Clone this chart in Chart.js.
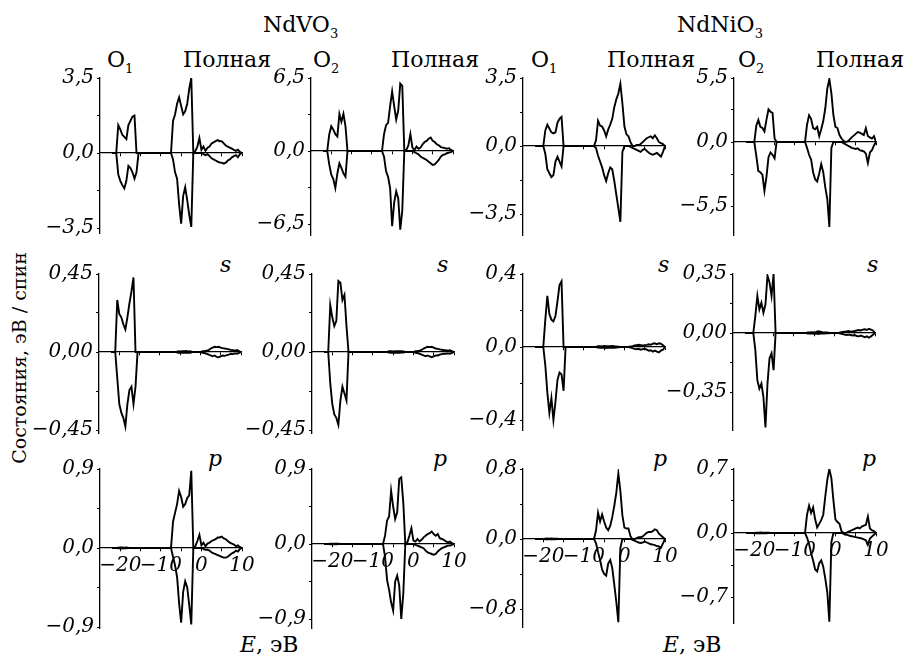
<!DOCTYPE html>
<html>
<head>
<meta charset="utf-8">
<script src="https://cdn.jsdelivr.net/npm/chart.js@4.4.1/dist/chart.umd.min.js"></script>
<style>
  body { margin: 0; background: #fff; }
  #fig { position: relative; width: 905px; height: 659px; overflow: hidden; font-family: 'DejaVu Serif', serif; color: #000; }
  #fig canvas { position: absolute; }
  .t { position: absolute; font-size: 22px; line-height: 22px; white-space: nowrap; }
  .t sub { font-size: 13px; vertical-align: -6px; line-height: 0; }
  .i { font-style: italic; }
  .ylab { position: absolute; left: 19px; top: 358px; font-size: 19px; white-space: nowrap; transform: translate(-50%, -50%) rotate(-90deg); }
</style>
</head>
<body>
<div id="fig">
  <div class="t" style="left:263px;top:14px">NdVO<sub>3</sub></div>
  <div class="t" style="left:677px;top:14px">NdNiO<sub>3</sub></div>

  <div class="t" style="left:107px;top:49px">O<sub>1</sub></div>
  <div class="t" style="left:183px;top:49px">Полная</div>
  <div class="t" style="left:313px;top:49px">O<sub>2</sub></div>
  <div class="t" style="left:391px;top:49px">Полная</div>
  <div class="t" style="left:531px;top:49px">O<sub>1</sub></div>
  <div class="t" style="left:607px;top:49px">Полная</div>
  <div class="t" style="left:738px;top:49px">O<sub>2</sub></div>
  <div class="t" style="left:816px;top:49px">Полная</div>

  <div class="t i" style="left:220px;top:254px">s</div>
  <div class="t i" style="left:437px;top:254px">s</div>
  <div class="t i" style="left:658px;top:254px">s</div>
  <div class="t i" style="left:867px;top:254px">s</div>

  <div class="t i" style="left:208px;top:448px">p</div>
  <div class="t i" style="left:433px;top:448px">p</div>
  <div class="t i" style="left:653px;top:448px">p</div>
  <div class="t i" style="left:862px;top:448px">p</div>

  <div class="t" style="left:240px;top:634px"><span class="i">E</span>, эВ</div>
  <div class="t" style="left:663px;top:634px"><span class="i">E</span>, эВ</div>

  <div class="ylab">Состояния, эВ / спин</div>
</div>
<script>
// energy grid, eV
var energies = [
  -22, -21.5, -21, -20.5, -20, -19.5, -19, -18.5, -18, -17.5,
  -17, -16.5, -16, -15.5, -15, -14.5, -14, -13.5, -13, -12.5,
  -12, -11.5, -11, -10.5, -10, -9.5, -9, -8.5, -8, -7.5,
  -7, -6.5, -6, -5.5, -5, -4.5, -4, -3.5, -3, -2.5,
  -2, -1.5, -1, -0.5, 0, 0.5, 1, 1.5, 2, 2.5,
  3, 3.5, 4, 4.5, 5, 5.5, 6, 6.5, 7, 7.5,
  8, 8.5, 9, 9.5, 10
];

// NdVO3, O1, total
var vo1TotUp = [
  0, 0, 0, 1.3, 1.1, 0.85, 0.75, 0.65, 1.3, 1.5,
  1.7, 1.75, 0, 0, 0, 0, 0, 0, 0, 0,
  0, 0, 0, 0, 0, 0, 0, 0, 0, 0,
  1.5, 1.8, 2.3, 2.6, 2.2, 1.8, 1.95, 2.3, 3.0, 3.5,
  0, 0.1, 0.3, 0.7, 0.15, 0.3, 0.1, 0.25, 0.3, 0.45,
  0.5, 0.55, 0.6, 0.55, 0.55, 0.45, 0.35, 0.3, 0.25, 0.2,
  0.15, 0.1, 0.15, 0.05, 0
];
var vo1TotDn = [
  0, 0, 0, -1.0, -1.3, -1.5, -1.65, -1.3, -0.6, -0.7,
  -0.9, -1.2, -0.9, 0, 0, 0, 0, 0, 0, 0,
  0, 0, 0, 0, 0, 0, 0, 0, 0, 0,
  -0.3, -0.9, -1.2, -2.4, -3.3, -2.0, -1.6, -2.2, -2.9, -3.45,
  0, 0, 0, 0, 0, -0.05, -0.1, -0.05, -0.15, -0.25,
  -0.3, -0.35, -0.4, -0.45, -0.45, -0.5, -0.45, -0.35, -0.3, -0.2,
  -0.15, -0.1, -0.2, -0.05, 0
];
// NdVO3, O2, total
var vo2TotUp = [
  0, 0, 0, 1.5, 2.2, 1.9, 1.5, 1.3, 3.3, 2.6,
  3.3, 2.2, 0, 0, 0, 0, 0, 0, 0, 0,
  0, 0, 0, 0, 0, 0, 0, 0, 0, 0,
  1.5, 2.3, 2.5, 4.0, 5.3, 4.0, 2.8, 3.6, 6.0, 5.8,
  0, 0.1, 0.5, 1.5, 0.3, 0.1, 0.4, 0.2, 0.3, 0.6,
  0.8, 0.9, 1.1, 1.2, 0.9, 0.8, 0.6, 0.5, 0.35, 0.3,
  0.25, 0.2, 0.25, 0.1, 0
];
var vo2TotDn = [
  0, 0, 0, -1.2, -2.1, -2.5, -3.3, -2.0, -1.1, -1.5,
  -2.0, -2.3, 0, 0, 0, 0, 0, 0, 0, 0,
  0, 0, 0, 0, 0, 0, 0, 0, 0, 0,
  -0.5, -1.8, -2.3, -3.3, -6.7, -4.6, -3.6, -4.2, -7.0, -5.3,
  0, 0, 0, 0, 0, -0.1, -0.2, -0.3, -0.5, -0.6,
  -0.7, -0.8, -0.95, -1.1, -1.25, -1.2, -1.0, -0.8, -0.5, -0.35,
  -0.3, -0.2, -0.15, -0.1, 0
];
// NdNiO3, O1, total
var ni1TotUp = [
  0, 0, 0, 0, 0, 0.8, 1.1, 0.9, 0.7, 0.65,
  0.7, 1.2, 1.4, 1.5, 0, 0, 0, 0, 0, 0,
  0, 0, 0, 0, 0, 0, 0, 0, 0, 0,
  0.3, 1.3, 1.05, 1.0, 0.8, 0.5, 0.85, 1.1, 1.4, 2.0,
  2.4, 2.7, 3.2, 2.2, 1.0, 0.6, 0.5, 0.2, 0, 0,
  0.05, 0.05, 0.1, 0.2, 0.3, 0.4, 0.45, 0.5, 0.4, 0.55,
  0.4, 0.2, 0.15, 0.1, 0
];
var ni1TotDn = [
  0, 0, 0, 0, 0, -0.4, -1.2, -1.4, -1.6, -1.5,
  -0.8, -0.55, -0.8, -1.05, 0, 0, 0, 0, 0, 0,
  0, 0, 0, 0, 0, 0, 0, 0, 0, 0,
  -0.1, -0.5, -0.8, -1.1, -1.5, -1.8, -1.4, -1.1, -1.2, -1.8,
  -2.5, -3.2, -3.9, -0.3, 0, 0, 0, -0.05, -0.1, -0.15,
  -0.2, -0.25, -0.3, -0.2, -0.15, -0.25, -0.35, -0.4, -0.45, -0.4,
  -0.35, -0.45, -0.55, -0.3, 0
];
// NdNiO3, O2, total
var ni2TotUp = [
  0, 0, 0, 0, 0, 1.4, 1.9, 1.3, 1.2, 0.9,
  1.9, 2.8, 2.6, 2.5, 0.3, 0, 0, 0, 0, 0,
  0, 0, 0, 0, 0, 0, 0, 0, 0, 0,
  1.5, 2.3, 2.0, 1.2, 1.1, 1.3, 0.5, 1.1, 1.8, 2.9,
  4.6, 5.4, 4.2, 2.3, 1.3, 1.2, 0.6, 0.3, 0.1, 0,
  0.05, 0.2, 0.4, 0.55, 0.7, 0.85, 0.8, 0.7, 0.6, 1.2,
  0.5, 0.4, 0.3, 0.5, 0
];
var ni2TotDn = [
  0, 0, 0, 0, 0, -1.2, -2.5, -2.6, -2.8, -4.2,
  -3.0, -1.3, -0.9, -1.1, -1.4, 0, 0, 0, 0, 0,
  0, 0, 0, 0, 0, 0, 0, 0, 0, 0,
  -0.5, -1.1, -1.5, -2.6, -3.2, -3.4, -2.7, -1.9, -2.6, -3.9,
  -4.9, -7.3, -0.5, 0, 0, 0, 0, 0, -0.1, -0.2,
  -0.3, -0.4, -0.5, -0.55, -0.6, -0.55, -0.7, -0.75, -0.8, -1.0,
  -1.8, -0.9, -0.7, -0.3, 0
];

// s states
var vo1SUp = [
  0, 0, 0, 0.3, 0.22, 0.2, 0.16, 0.13, 0.2, 0.28,
  0.35, 0.43, 0, 0, 0, 0, 0, 0, 0, 0,
  0, 0, 0, 0, 0, 0, 0, 0, 0, 0,
  0, 0, 0, 0.005, 0.003, 0.005, 0.004, 0.006, 0.003, 0.005,
  0, 0, 0, 0, 0, 0.005, 0.005, 0.008, 0.01, 0.02,
  0.025, 0.03, 0.028, 0.03, 0.025, 0.022, 0.02, 0.018, 0.015, 0.012,
  0.01, 0.008, 0.012, 0.005, 0
];
var vo1SDn = [
  0, 0, 0, -0.15, -0.3, -0.35, -0.38, -0.43, -0.3, -0.22,
  -0.2, -0.3, -0.2, 0, 0, 0, 0, 0, 0, 0,
  0, 0, 0, 0, 0, 0, 0, 0, 0, 0,
  0, 0, 0, -0.004, -0.003, -0.005, -0.003, -0.004, -0.003, -0.004,
  0, 0, 0, 0, 0, -0.005, -0.006, -0.01, -0.015, -0.02,
  -0.025, -0.02, -0.028, -0.03, -0.025, -0.02, -0.022, -0.018, -0.015, -0.01,
  -0.012, -0.008, -0.01, -0.005, 0
];
var vo2SUp = [
  0, 0, 0, 0.27, 0.2, 0.15, 0.18, 0.41, 0.4, 0.3,
  0.33, 0.15, 0, 0, 0, 0, 0, 0, 0, 0,
  0, 0, 0, 0, 0, 0, 0, 0, 0, 0,
  0, 0, 0.004, 0.005, 0.003, 0.005, 0.004, 0.005, 0.004, 0.003,
  0, 0, 0, 0, 0, 0.005, 0.006, 0.008, 0.012, 0.02,
  0.025, 0.03, 0.028, 0.03, 0.025, 0.02, 0.018, 0.015, 0.013, 0.01,
  0.01, 0.008, 0.01, 0.005, 0
];
var vo2SDn = [
  0, 0, 0, -0.18, -0.3, -0.36, -0.38, -0.42, -0.28, -0.2,
  -0.24, -0.28, 0, 0, 0, 0, 0, 0, 0, 0,
  0, 0, 0, 0, 0, 0, 0, 0, 0, 0,
  0, 0, -0.003, -0.004, -0.003, -0.004, -0.003, -0.004, -0.003, -0.003,
  0, 0, 0, 0, 0, -0.005, -0.006, -0.01, -0.015, -0.02,
  -0.025, -0.02, -0.025, -0.03, -0.025, -0.02, -0.02, -0.015, -0.012, -0.01,
  -0.01, -0.008, -0.01, -0.005, 0
];
var ni1SUp = [
  0, 0, 0, 0, 0, 0.15, 0.28, 0.18, 0.15, 0.14,
  0.17, 0.25, 0.34, 0.36, 0, 0, 0, 0, 0, 0,
  0, 0, 0, 0, 0, 0, 0, 0, 0, 0,
  0, 0.004, 0.005, 0.003, 0.006, 0.004, 0.005, 0.004, 0.006, 0.004,
  0.003, 0.002, 0, 0, 0, 0, 0, 0.003, 0.005, 0.008,
  0.01, 0.012, 0.01, 0.008, 0.01, 0.012, 0.015, 0.012, 0.018, 0.02,
  0.015, 0.02, 0.018, 0.01, 0
];
var ni1SDn = [
  0, 0, 0, 0, 0, -0.1, -0.25, -0.36, -0.28, -0.4,
  -0.3, -0.18, -0.14, -0.15, -0.24, 0, 0, 0, 0, 0,
  0, 0, 0, 0, 0, 0, 0, 0, 0, 0,
  0, -0.003, -0.004, -0.005, -0.004, -0.006, -0.004, -0.005, -0.003, -0.004,
  -0.003, -0.002, 0, 0, 0, 0, 0, -0.003, -0.006, -0.01,
  -0.012, -0.01, -0.015, -0.012, -0.01, -0.015, -0.02, -0.018, -0.025, -0.02,
  -0.025, -0.03, -0.02, -0.015, 0
];
var ni2SUp = [
  0, 0, 0, 0, 0, 0.1, 0.22, 0.14, 0.18, 0.12,
  0.17, 0.34, 0.3, 0.22, 0.35, 0, 0, 0, 0, 0,
  0, 0, 0, 0, 0, 0, 0, 0, 0, 0,
  0, 0.003, 0.004, 0.005, 0.004, 0.006, 0.01, 0.008, 0.005, 0.004,
  0.003, 0.002, 0, 0, 0, 0, 0, 0.004, 0.006, 0.008,
  0.01, 0.012, 0.008, 0.01, 0.012, 0.015, 0.018, 0.015, 0.02, 0.022,
  0.018, 0.025, 0.02, 0.015, 0
];
var ni2SDn = [
  0, 0, 0, 0, 0, -0.1, -0.28, -0.33, -0.3, -0.38,
  -0.56, -0.3, -0.15, -0.12, -0.22, 0, 0, 0, 0, 0,
  0, 0, 0, 0, 0, 0, 0, 0, 0, 0,
  0, -0.003, -0.004, -0.004, -0.005, -0.004, -0.006, -0.004, -0.003, -0.003,
  -0.002, -0.002, 0, 0, 0, 0, 0, -0.004, -0.006, -0.01,
  -0.012, -0.01, -0.012, -0.015, -0.012, -0.018, -0.02, -0.015, -0.02, -0.025,
  -0.02, -0.028, -0.02, -0.01, 0
];

// p states
var vo1PUp = [
  0, 0, 0, 0.004, 0.005, 0.006, 0.004, 0.005, 0.003, 0.002,
  0, 0, 0, 0, 0, 0, 0, 0, 0, 0,
  0, 0, 0, 0, 0, 0, 0, 0, 0, 0,
  0.3, 0.4, 0.5, 0.65, 0.58, 0.47, 0.5, 0.57, 0.6, 0.88,
  0, 0.02, 0.08, 0.15, 0.03, 0.06, 0.02, 0.05, 0.06, 0.08,
  0.09, 0.1, 0.12, 0.12, 0.13, 0.11, 0.1, 0.08, 0.06, 0.05,
  0.04, 0.02, 0.03, 0.01, 0
];
var vo1PDn = [
  0, 0, 0, -0.003, -0.004, -0.005, -0.004, -0.003, -0.002, 0,
  0, 0, 0, 0, 0, 0, 0, 0, 0, 0,
  0, 0, 0, 0, 0, 0, 0, 0, 0, 0,
  -0.1, -0.2, -0.33, -0.63, -0.85, -0.5, -0.38, -0.45, -0.65, -0.87,
  0, 0, 0, 0, 0, -0.01, -0.02, -0.02, -0.03, -0.05,
  -0.06, -0.07, -0.08, -0.09, -0.1, -0.11, -0.11, -0.1, -0.08, -0.06,
  -0.05, -0.03, -0.04, -0.01, 0
];
var vo2PUp = [
  0, 0, 0, 0.003, 0.004, 0.005, 0.004, 0.003, 0.002, 0,
  0, 0, 0, 0, 0, 0, 0, 0, 0, 0,
  0, 0, 0, 0, 0, 0, 0, 0, 0, 0,
  0.1, 0.28, 0.33, 0.64, 0.45, 0.3, 0.38, 0.78, 0.8, 0.5,
  0, 0.02, 0.1, 0.19, 0.04, 0.03, 0.06, 0.03, 0.05, 0.08,
  0.1, 0.12, 0.13, 0.15, 0.12, 0.1, 0.12, 0.07, 0.06, 0.05,
  0.03, 0.02, 0.03, 0.01, 0
];
var vo2PDn = [
  0, 0, 0, -0.003, -0.004, -0.004, -0.003, -0.002, 0, 0,
  0, 0, 0, 0, 0, 0, 0, 0, 0, 0,
  0, 0, 0, 0, 0, 0, 0, 0, 0, 0,
  -0.15, -0.43, -0.55, -0.7, -0.8, -0.45, -0.38, -0.5, -0.9, -0.6,
  0, 0, 0, 0, 0, -0.01, -0.02, -0.03, -0.04, -0.05,
  -0.08, -0.1, -0.11, -0.12, -0.13, -0.12, -0.09, -0.07, -0.05, -0.04,
  -0.03, -0.02, -0.02, -0.01, 0
];
var ni1PUp = [
  0, 0, 0, 0, 0, 0.003, 0.005, 0.004, 0.006, 0.004,
  0.003, 0.004, 0.002, 0, 0, 0, 0, 0, 0, 0,
  0, 0, 0, 0, 0, 0, 0, 0, 0, 0,
  0.1, 0.3, 0.2, 0.28, 0.2, 0.13, 0.1, 0.15, 0.25, 0.38,
  0.53, 0.75, 0.55, 0.27, 0.13, 0.12, 0.12, 0.03, 0, 0,
  0.01, 0.02, 0.02, 0.03, 0.05, 0.07, 0.08, 0.08, 0.09, 0.11,
  0.1, 0.06, 0.04, 0.02, 0
];
var ni1PDn = [
  0, 0, 0, 0, 0, -0.003, -0.004, -0.003, -0.004, -0.002,
  -0.003, -0.002, 0, 0, 0, 0, 0, 0, 0, 0,
  0, 0, 0, 0, 0, 0, 0, 0, 0, 0,
  -0.05, -0.15, -0.24, -0.35, -0.4, -0.42, -0.28, -0.24, -0.33, -0.52,
  -0.72, -0.95, -0.1, 0, 0, 0, 0, 0, -0.01, -0.02,
  -0.03, -0.04, -0.045, -0.04, -0.03, -0.04, -0.05, -0.06, -0.065, -0.07,
  -0.08, -0.085, -0.1, -0.05, 0
];
var ni2PUp = [
  0, 0, 0, 0, 0, 0.003, 0.004, 0.005, 0.003, 0.004,
  0.003, 0.002, 0, 0, 0, 0, 0, 0, 0, 0,
  0, 0, 0, 0, 0, 0, 0, 0, 0, 0,
  0.2, 0.3, 0.22, 0.28, 0.15, 0.06, 0.1, 0.14, 0.2, 0.4,
  0.58, 0.7, 0.6, 0.36, 0.15, 0.12, 0.1, 0.02, 0, 0,
  0.01, 0.02, 0.03, 0.04, 0.05, 0.06, 0.05, 0.07, 0.08, 0.09,
  0.18, 0.05, 0.03, 0.02, 0
];
var ni2PDn = [
  0, 0, 0, 0, 0, -0.002, -0.003, -0.004, -0.003, -0.002,
  -0.002, 0, 0, 0, 0, 0, 0, 0, 0, 0,
  0, 0, 0, 0, 0, 0, 0, 0, 0, 0,
  -0.05, -0.12, -0.22, -0.3, -0.4, -0.42, -0.33, -0.3, -0.37, -0.5,
  -0.65, -0.97, -0.1, 0, 0, 0, 0, 0, -0.01, -0.02,
  -0.02, -0.03, -0.035, -0.04, -0.045, -0.05, -0.055, -0.06, -0.07, -0.08,
  -0.13, -0.06, -0.04, -0.02, 0
];

// panels, row by row: [spin up, spin down]
var panelSeries = [
  [vo1TotUp, vo1TotDn], [vo2TotUp, vo2TotDn], [ni1TotUp, ni1TotDn], [ni2TotUp, ni2TotDn],
  [vo1SUp, vo1SDn], [vo2SUp, vo2SDn], [ni1SUp, ni1SDn], [ni2SUp, ni2SDn],
  [vo1PUp, vo1PDn], [vo2PUp, vo2PDn], [ni1PUp, ni1PDn], [ni2PUp, ni2PDn]
];
var yMaxes = [3.5, 6.5, 3.5, 5.5, 0.45, 0.45, 0.4, 0.35, 0.9, 0.9, 0.8, 0.7];
var yDecimals = [1, 1, 1, 1, 2, 2, 1, 2, 1, 1, 1, 1];
var xTicks = [-20, -15, -10, -5, 0, 5, 10];
var xTickLabels = ['\u221220', '', '\u221210', '', '0', '', '10'];

// where each panel sits: y axis x, pixel of +max, pixel of zero, pixel of axis bottom
var boxes = [
  [100, 78, 153, 233], [311, 78, 151, 235], [523, 78, 146, 235], [734, 78, 142, 235],
  [99, 274, 352, 433], [312, 274, 352, 433], [523, 274, 347, 430], [733, 274, 333, 430],
  [100, 469, 548, 628], [312, 469, 544, 628], [523, 469, 539, 627], [734, 469, 533, 623]
];
var AXW = 70, PLOTW = 142, PADT = 16, PADB = 16, PADR = 18;
var tickFont = { family: 'DejaVu Serif', style: 'italic', size: 20 };

function fmt(v, d) {
  return v.toFixed(d).replace('.', ',').replace('-', '\u2212');
}

var fig = document.getElementById('fig');

boxes.forEach(function (b, k) {
  var ax = b[0], yTop = b[1], yZero = b[2], yBot = b[3];
  var w = AXW + PLOTW + PADR, h = PADT + (yBot - yTop) + PADB;
  var cv = document.createElement('canvas');
  cv.width = w; cv.height = h;
  cv.style.left = (ax - AXW) + 'px';
  cv.style.top = (yTop - PADT) + 'px';
  cv.style.width = w + 'px';
  cv.style.height = h + 'px';
  fig.appendChild(cv);

  var M = yMaxes[k];
  var yMin = -M * (yBot - yZero) / (yZero - yTop);
  var up = panelSeries[k][0], dn = panelSeries[k][1];
  var showX = k >= 8;

  new Chart(cv, {
    type: 'line',
    data: {
      datasets: [
        { data: energies.map(function (e, i) { return { x: e, y: up[i] }; }) },
        { data: energies.map(function (e, i) { return { x: e, y: dn[i] }; }) }
      ]
    },
    options: {
      responsive: false,
      animation: false,
      layout: { padding: { left: 0, top: PADT, right: PADR, bottom: PADB } },
      plugins: { legend: { display: false }, tooltip: { enabled: false } },
      elements: {
        point: { radius: 0 },
        line: { borderColor: '#000', borderWidth: 1.9, tension: 0 }
      },
      scales: {
        x: {
          type: 'linear', min: -25, max: 10, position: { y: 0 },
          afterBuildTicks: function (s) { s.ticks = xTicks.map(function (v) { return { value: v }; }); },
          ticks: {
            autoSkip: false, maxRotation: 0, minRotation: 0, padding: 3, color: '#000',
            font: { family: 'DejaVu Serif', style: 'italic', size: 20 },
            callback: function (v, i) { return showX ? xTickLabels[i] : ''; }
          },
          grid: { drawOnChartArea: false, tickLength: 3, color: '#000' },
          border: { color: '#000', width: 1.3 }
        },
        y: {
          type: 'linear', min: yMin, max: M, position: 'left',
          afterBuildTicks: function (s) {
            s.ticks = [-M, -M / 2, 0, M / 2, M].map(function (v) { return { value: v }; });
          },
          afterFit: function (s) { s.width = AXW; },
          ticks: {
            padding: 3, color: '#000', font: tickFont,
            callback: function (v) {
              return (v === M || v === -M || v === 0) ? fmt(v, yDecimals[k]) : '';
            }
          },
          grid: { drawOnChartArea: false, tickLength: 3, color: '#000' },
          border: { color: '#000', width: 1.3 }
        }
      }
    }
  });
});
</script>
</body>
</html>
